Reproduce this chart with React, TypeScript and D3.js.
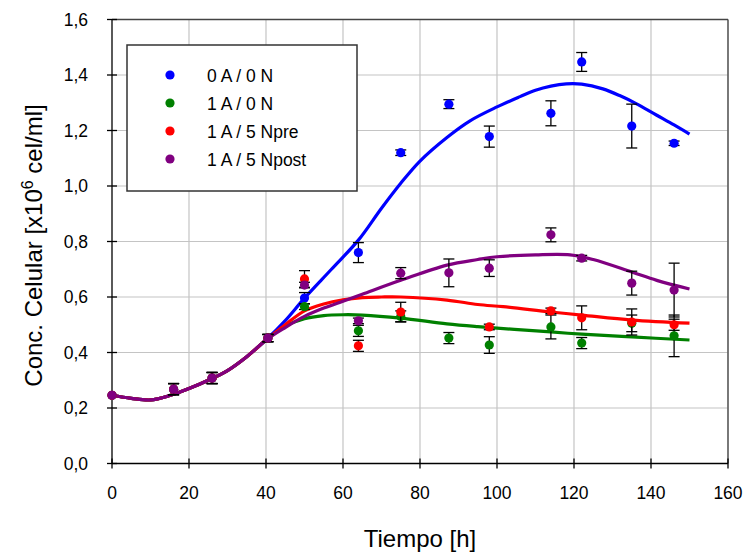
import React from "react";
import * as d3 from "d3";

// [time, value, error]
const blueData: [number, number, number][] = [
  [0, 0.246, 0], [16, 0.268, 0.02], [26, 0.308, 0.02], [40.5, 0.452, 0.013],
  [50, 0.596, 0.02], [64, 0.76, 0.036], [75, 1.12, 0.01], [87.5, 1.295, 0.016],
  [98, 1.178, 0.038], [114, 1.262, 0.045], [122, 1.447, 0.034], [135, 1.216, 0.079],
  [146, 1.154, 0.008],
];
const greenData: [number, number, number][] = [
  [0, 0.246, 0], [16, 0.268, 0.02], [26, 0.308, 0.02], [40.5, 0.452, 0.013],
  [50, 0.565, 0.01], [64, 0.478, 0.02], [75, 0.53, 0.02], [87.5, 0.452, 0.02],
  [98, 0.427, 0.03], [114, 0.492, 0.043], [122, 0.434, 0.02], [135, 0.505, 0.03],
  [146, 0.46, 0.075],
];
const redData: [number, number, number][] = [
  [0, 0.246, 0], [16, 0.268, 0.02], [26, 0.308, 0.02], [40.5, 0.452, 0.013],
  [50, 0.665, 0.03], [64, 0.424, 0.02], [75, 0.546, 0.035],
  [98, 0.492, 0.01], [114, 0.55, 0.01], [122, 0.525, 0.043], [135, 0.51, 0.047],
  [146, 0.5, 0.02],
];
const purpleData: [number, number, number][] = [
  [0, 0.246, 0], [16, 0.268, 0.02], [26, 0.308, 0.02], [40.5, 0.452, 0.013],
  [50, 0.643, 0.01], [64, 0.514, 0.01], [75, 0.686, 0.02], [87.5, 0.687, 0.05],
  [98, 0.704, 0.03], [114, 0.824, 0.025], [122, 0.74, 0.01], [135, 0.65, 0.043],
  [146, 0.625, 0.097],
];

// fitted curves: [time, value]
const commonFit: [number, number][] = [
  [0, 0.246], [5, 0.235], [10, 0.229], [15, 0.245], [20, 0.27], [25, 0.3],
  [30, 0.335], [35, 0.385], [40, 0.445],
];
const blueFit: [number, number][] = [
  ...commonFit, [45, 0.515], [50, 0.596], [57, 0.7], [64, 0.805], [70, 0.92],
  [75, 1.01], [80, 1.09], [87, 1.175], [93, 1.235], [100, 1.285], [106, 1.322],
  [110, 1.345], [114, 1.36], [118, 1.368], [122, 1.367], [127.5, 1.35], [132, 1.325],
  [136, 1.298], [141.5, 1.255], [146, 1.22], [150, 1.187],
];
const greenFit: [number, number][] = [
  ...commonFit, [45, 0.495], [50, 0.522], [55, 0.533], [60, 0.536], [65, 0.535],
  [75, 0.524], [87, 0.503], [95, 0.493], [114, 0.474], [122, 0.466], [135, 0.456],
  [150, 0.445],
];
const redFit: [number, number][] = [
  ...commonFit, [45, 0.5], [50, 0.55], [55, 0.575], [60, 0.59], [65, 0.598],
  [70, 0.6], [75, 0.6], [87, 0.589], [95, 0.573], [101.6, 0.565], [114, 0.546],
  [122, 0.535], [135, 0.517], [150, 0.506],
];
const purpleFit: [number, number][] = [
  ...commonFit, [45, 0.49], [50, 0.53], [55, 0.56], [60, 0.585], [65, 0.61],
  [75, 0.66], [87, 0.715], [95, 0.735], [100, 0.745], [110, 0.752], [119, 0.752],
  [125, 0.735], [135, 0.69], [141.5, 0.66], [150, 0.629],
];

const seriesNames = ["0 A / 0 N", "1 A / 0 N", "1 A / 5 Npre", "1 A / 5 Npost"];
const seriesColors = ["#0000ff", "#008000", "#ff0000", "#800080"];
const seriesData = [blueData, greenData, redData, purpleData];
const seriesFits = [blueFit, greenFit, redFit, purpleFit];

const xTicks = [0, 20, 40, 60, 80, 100, 120, 140, 160];
const yTicks = [0, 0.2, 0.4, 0.6, 0.8, 1.0, 1.2, 1.4, 1.6];

const W = 745;
const H = 556;
const left = 112;
const right = 728;
const top = 19.5;
const bottom = 463.5;

export default function App() {
  const x = d3.scaleLinear().domain([0, 160]).range([left, right]);
  const y = d3.scaleLinear().domain([0, 1.6]).range([bottom, top]);
  const line = d3
    .line<[number, number]>()
    .x((d) => x(d[0]))
    .y((d) => y(d[1]))
    .curve(d3.curveCatmullRom.alpha(0.5));
  const fmt = (v: number) => d3.format(".1f")(v).replace(".", ",");
  const font = "'Liberation Sans', Arial, sans-serif";

  return (
    <svg
      width={W}
      height={H}
      viewBox={`0 0 ${W} ${H}`}
      style={{ position: "absolute", left: 0, top: 0, background: "#fff" }}
      fontFamily={font}
    >
      <rect x={0} y={0} width={W} height={H} fill="#fff" />
      {/* grid */}
      {xTicks.slice(1).map((t) => (
        <line key={"gx" + t} x1={x(t)} x2={x(t)} y1={top} y2={bottom} stroke="#c4c4c4" strokeWidth={1.2} />
      ))}
      {yTicks.slice(1).map((t) => (
        <line key={"gy" + t} x1={left} x2={right} y1={y(t)} y2={y(t)} stroke="#c4c4c4" strokeWidth={1.2} />
      ))}
      {/* frame top/right */}
      <line x1={left} x2={right} y1={top} y2={top} stroke="#444" strokeWidth={1.3} />
      <line x1={right} x2={right} y1={top} y2={bottom} stroke="#444" strokeWidth={1.3} />
      {/* axes */}
      <line x1={left} x2={left} y1={top} y2={bottom} stroke="#000" strokeWidth={1.3} />
      <line x1={left} x2={right} y1={bottom} y2={bottom} stroke="#000" strokeWidth={1.3} />
      {yTicks.map((t) => (
        <g key={"yt" + t}>
          <line x1={left - 5} x2={left + 5} y1={y(t)} y2={y(t)} stroke="#000" strokeWidth={1.3} />
          <text x={88} y={y(t) + 6} textAnchor="end" fontSize={17.5} fill="#000">
            {fmt(t)}
          </text>
        </g>
      ))}
      {xTicks.map((t) => (
        <g key={"xt" + t}>
          <line x1={x(t)} x2={x(t)} y1={bottom - 5} y2={bottom + 5} stroke="#000" strokeWidth={1.3} />
          <text x={x(t)} y={499} textAnchor="middle" fontSize={17.5} fill="#000">
            {t}
          </text>
        </g>
      ))}
      {/* axis titles */}
      <text x={(left + right) / 2} y={547} textAnchor="middle" fontSize={24} fill="#000">
        Tiempo [h]
      </text>
      <text
        transform={`translate(42, ${(top + bottom) / 2 + 4}) rotate(-90)`}
        textAnchor="middle"
        fontSize={24}
        fill="#000"
      >
        Conc. Celular [x10
        <tspan fontSize={16} dy={-9}>6</tspan>
        <tspan dy={9}> cel/ml]</tspan>
      </text>
      {/* fit lines */}
      {seriesFits.map((f, i) => (
        <path key={"fit" + i} d={line(f) || ""} fill="none" stroke={seriesColors[i]} strokeWidth={3.2} />
      ))}
      {/* points with error bars */}
      {seriesData.map((data, i) => (
        <g key={"s" + i}>
          {data.map(([t, v, e], j) => (
            <g key={j}>
              {e > 0 && (
                <g stroke="#000" strokeWidth={1.3}>
                  <line x1={x(t)} x2={x(t)} y1={y(v - e)} y2={y(v + e)} />
                  <line x1={x(t) - 5.5} x2={x(t) + 5.5} y1={y(v - e)} y2={y(v - e)} />
                  <line x1={x(t) - 5.5} x2={x(t) + 5.5} y1={y(v + e)} y2={y(v + e)} />
                </g>
              )}
              <circle cx={x(t)} cy={y(v)} r={4.6} fill={seriesColors[i]} />
            </g>
          ))}
        </g>
      ))}
      {/* legend */}
      <rect x={127} y={45} width={230} height={146} fill="#fff" stroke="#333" strokeWidth={1.5} />
      {seriesNames.map((n, i) => (
        <g key={"lg" + i}>
          <circle cx={170} cy={75 + i * 28} r={4.6} fill={seriesColors[i]} />
          <text x={207} y={75 + i * 28 + 6.5} fontSize={17.5} fill="#000">
            {n}
          </text>
        </g>
      ))}
    </svg>
  );
}
